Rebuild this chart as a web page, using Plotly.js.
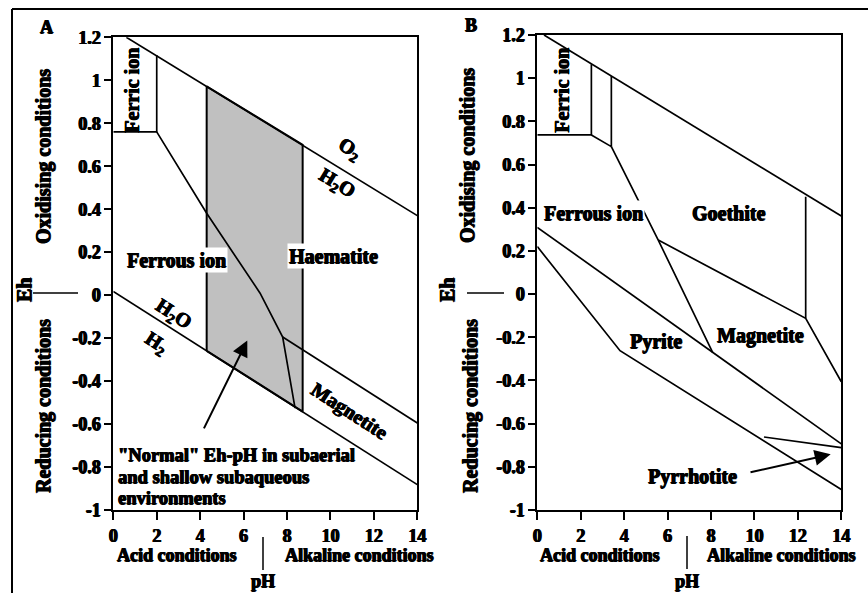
<!DOCTYPE html>
<html>
<head>
<meta charset="utf-8">
<script src="https://cdn.plot.ly/plotly-3.0.1.min.js"></script>
<style>html,body{margin:0;padding:0;background:#fff;}#chart{width:868px;height:593px;}</style>
</head>
<body>
<div id="chart"></div>
<script>
// ---------- DATA ----------
const xTickVals = [0, 2, 4, 6, 8, 10, 12, 14];
const xTickText = ["0", "2", "4", "6", "8", "10", "12", "14"];
const yTickVals = [-1, -0.8, -0.6, -0.4, -0.2, 0, 0.2, 0.4, 0.6, 0.8, 1, 1.2];
const yTickText = ["-1", "-0.8", "-0.6", "-0.4", "-0.2", "0", "0.2", "0.4", "0.6", "0.8", "1", "1.2"];

// Panel A (pH, Eh)
const aO2_pH = [0.6, 14];            const aO2_Eh = [1.2, 0.37];
const aH2_pH = [0, 14];              const aH2_Eh = [0.017, -0.882];
const aFerric_pH = [0, 2.0, 2.0];    const aFerric_Eh = [0.76, 0.76, 1.118];
const aFerrous_pH = [2.0, 4.3, 6.76, 7.8, 8.37]; const aFerrous_Eh = [0.76, 0.381, 0.009, -0.195, -0.526];
const aMagnetite_pH = [7.8, 14];     const aMagnetite_Eh = [-0.195, -0.595];
const aNormal_pH = [4.3, 4.3, 8.72, 8.72, 4.3]; const aNormal_Eh = [-0.259, 0.972, 0.70, -0.542, -0.259];
const aArrow = {tail: [4.14, -0.627], head: [6.17, -0.211]};

// Panel B (pH, Eh)
const bO2_pH = [0.31, 14];           const bO2_Eh = [1.2, 0.362];
const bFerric_pH = [0, 2.49, 2.49];  const bFerric_Eh = [0.737, 0.737, 1.065];
const bFerric2_pH = [2.49, 3.41, 3.41]; const bFerric2_Eh = [0.737, 0.683, 1.01];
const bFerrous_pH = [3.41, 5.57, 8.08]; const bFerrous_Eh = [0.683, 0.25, -0.271];
const bGoethite_pH = [5.57, 12.36, 14]; const bGoethite_Eh = [0.25, -0.112, -0.406];
const bGoethiteV_pH = [12.36, 12.36]; const bGoethiteV_Eh = [0.451, -0.112];
const bPyriteTop_pH = [0, 8.08, 14];  const bPyriteTop_Eh = [0.309, -0.271, -0.694];
const bPyriteLow_pH = [0, 3.81, 14];  const bPyriteLow_Eh = [0.22, -0.262, -0.905];
const bPyrrhotite_pH = [10.44, 14];   const bPyrrhotite_Eh = [-0.662, -0.711];
const bArrow = {tail: [9.75, -0.827], head: [13.51, -0.742]};

// ---------- HELPERS ----------
const W = 868, H = 593;
const px = v => v / W;
const py = v => 1 - v / H;
const FONT = 'Liberation Serif';
const SHADOW = '0.7px 0 0 #000, -0.5px 0 0 #000, 0 0.5px 0 #000';
const font = (s) => ({family: FONT, size: s, color: '#000', weight: 'bold', shadow: SHADOW});

function line(xs, ys, ax, w) {
  return {x: xs, y: ys, xaxis: ax[0], yaxis: ax[1], type: 'scatter', mode: 'lines',
          line: {color: '#000', width: w || 1.7}, hoverinfo: 'skip', showlegend: false};
}
const A = ['x', 'y'], B = ['x2', 'y2'];

const traces = [
  {x: aNormal_pH, y: aNormal_Eh, xaxis: 'x', yaxis: 'y', type: 'scatter', mode: 'lines',
   fill: 'toself', fillcolor: '#c0c0c0', line: {color: '#000', width: 2}, hoverinfo: 'skip', showlegend: false},
  line(aO2_pH, aO2_Eh, A),
  line(aH2_pH, aH2_Eh, A),
  line(aFerric_pH, aFerric_Eh, A),
  line(aFerrous_pH, aFerrous_Eh, A),
  line(aMagnetite_pH, aMagnetite_Eh, A),
  line(bO2_pH, bO2_Eh, B),
  line(bFerric_pH, bFerric_Eh, B),
  line(bFerric2_pH, bFerric2_Eh, B),
  line(bFerrous_pH, bFerrous_Eh, B),
  line(bGoethite_pH, bGoethite_Eh, B),
  line(bGoethiteV_pH, bGoethiteV_Eh, B),
  line(bPyriteTop_pH, bPyriteTop_Eh, B),
  line(bPyriteLow_pH, bPyriteLow_Eh, B),
  line(bPyrrhotite_pH, bPyrrhotite_Eh, B)
];

const axisCommon = {
  showline: true, linecolor: '#000', linewidth: 2, mirror: true,
  ticks: 'outside', ticklen: 7, tickwidth: 2, tickcolor: '#000',
  showgrid: false, zeroline: false, fixedrange: true,
  tickfont: font(18)
};
const xCommon = Object.assign({}, axisCommon, {range: [0, 14], tickmode: 'array', tickvals: xTickVals, ticktext: xTickText, ticklen: 8});
const yCommon = Object.assign({}, axisCommon, {range: [-1, 1.2], tickmode: 'array', tickvals: yTickVals, ticktext: yTickText});

function ann(text, x, y, ref, opts) {
  return Object.assign({text: text, x: x, y: y, xref: ref[0], yref: ref[1], showarrow: false,
                        font: font(20), xanchor: 'center', yanchor: 'middle'}, opts || {});
}
const P = ['paper', 'paper'];

const annotations = [
  // panel letters
  ann('A', px(46), py(27), P, {font: font(18)}),
  ann('B', px(471), py(25), P, {font: font(18)}),
  // axis side titles A
  ann('Oxidising conditions', px(43), py(157), P, {textangle: -90}),
  ann('Reducing conditions', px(43), py(406), P, {textangle: -90}),
  ann('Eh', px(24), py(290), P, {textangle: -90}),
  // axis side titles B
  ann('Oxidising conditions', px(467), py(156), P, {textangle: -90}),
  ann('Reducing conditions', px(470), py(406), P, {textangle: -90}),
  ann('Eh', px(447), py(290), P, {textangle: -90}),
  // x titles A
  ann('Acid conditions', px(177), py(555), P, {font: font(18)}),
  ann('Alkaline conditions', px(283), py(555), P, {xanchor: 'left', font: font(18)}),
  ann('pH', px(263), py(581), P, {font: font(18)}),
  // x titles B
  ann('Acid conditions', px(600), py(555), P, {font: font(18)}),
  ann('Alkaline conditions', px(705), py(555), P, {xanchor: 'left', font: font(18)}),
  ann('pH', px(687), py(581), P, {font: font(18)}),
  // Panel A labels
  ann('Ferric ion', 0.85, 0.955, A, {textangle: -90}),
  ann('O<sub>2</sub>', 10.9, 0.676, A, {textangle: 31}),
  ann('H<sub>2</sub>O', 10.29, 0.521, A, {textangle: 31}),
  ann('Ferrous ion', 2.92, 0.164, A, {bgcolor: '#fff'}),
  ann('Haematite', 10.12, 0.18, A, {bgcolor: '#fff'}),
  ann('H<sub>2</sub>O', 2.76, -0.092, A, {textangle: 33}),
  ann('H<sub>2</sub>', 2.0, -0.223, A, {textangle: 33}),
  ann('Magnetite', 10.9, -0.541, A, {textangle: 33}),
  ann('"Normal" Eh-pH in subaerial', px(116), py(455), P, {xanchor: 'left', font: font(18.5)}),
  ann('and shallow subaqueous', px(116), py(477), P, {xanchor: 'left', font: font(18.5)}),
  ann('environments', px(116), py(498), P, {xanchor: 'left', font: font(18.5)}),
  {x: aArrow.head[0], y: aArrow.head[1], ax: aArrow.tail[0], ay: aArrow.tail[1],
   xref: 'x', yref: 'y', axref: 'x', ayref: 'y', text: '', showarrow: true,
   arrowhead: 2, arrowsize: 1.6, arrowwidth: 2, arrowcolor: '#000', standoff: 0},
  // Panel B labels
  ann('Ferric ion', 1.15, 0.943, B, {textangle: -90}),
  ann('Ferrous ion', 2.61, 0.376, B, {bgcolor: '#fff'}),
  ann('Goethite', 8.8, 0.374, B),
  ann('Pyrite', 5.48, -0.221, B),
  ann('Magnetite', 10.29, -0.19, B),
  ann('Pyrrhotite', 7.14, -0.846, B),
  {x: bArrow.head[0], y: bArrow.head[1], ax: bArrow.tail[0], ay: bArrow.tail[1],
   xref: 'x2', yref: 'y2', axref: 'x2', ayref: 'y2', text: '', showarrow: true,
   arrowhead: 2, arrowsize: 1.6, arrowwidth: 2, arrowcolor: '#000', standoff: 0}
];

const shapes = [
  // outer frame (left and top edges)
  {type: 'line', xref: 'paper', yref: 'paper', x0: px(12), y0: py(9), x1: px(12), y1: py(600), line: {color: '#000', width: 2}},
  {type: 'line', xref: 'paper', yref: 'paper', x0: px(12), y0: py(9), x1: px(880), y1: py(9), line: {color: '#000', width: 2}},
  // Eh lines
  {type: 'line', xref: 'paper', yref: 'paper', x0: px(33), y0: py(293), x1: px(78), y1: py(293), line: {color: '#000', width: 1.5}},
  {type: 'line', xref: 'paper', yref: 'paper', x0: px(467), y0: py(293), x1: px(504), y1: py(293), line: {color: '#000', width: 1.5}},
  // acid / alkaline separators
  {type: 'line', xref: 'paper', yref: 'paper', x0: px(263), y0: py(537), x1: px(263), y1: py(570), line: {color: '#000', width: 1.5}},
  {type: 'line', xref: 'paper', yref: 'paper', x0: px(687), y0: py(536), x1: px(687), y1: py(569), line: {color: '#000', width: 1.5}}
];

const layout = {
  width: W, height: H,
  margin: {l: 0, r: 0, t: 0, b: 0},
  paper_bgcolor: '#fff', plot_bgcolor: '#fff',
  showlegend: false,
  font: font(18),
  xaxis: Object.assign({}, xCommon, {domain: [px(113.3), px(417.3)], anchor: 'y'}),
  yaxis: Object.assign({}, yCommon, {domain: [py(510), py(37.3)], anchor: 'x'}),
  xaxis2: Object.assign({}, xCommon, {domain: [px(537.3), px(841.3)], anchor: 'y2'}),
  yaxis2: Object.assign({}, yCommon, {domain: [py(510), py(35)], anchor: 'x2'}),
  annotations: annotations,
  shapes: shapes
};

Plotly.newPlot('chart', traces, layout, {displayModeBar: false, staticPlot: true});
</script>
</body>
</html>
